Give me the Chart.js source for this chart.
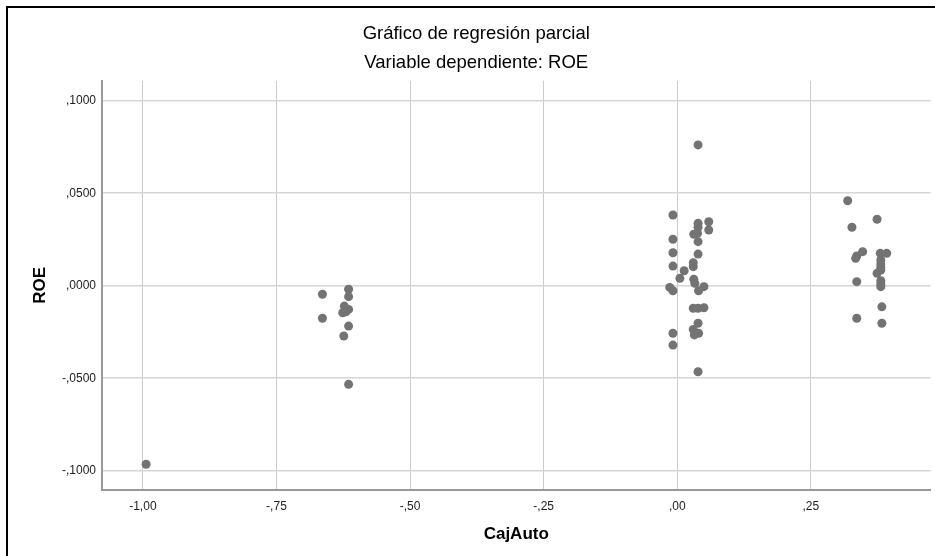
<!DOCTYPE html>
<html>
<head>
<meta charset="utf-8">
<script src="https://cdn.jsdelivr.net/npm/chart.js@4"></script>
<style>
  html, body { margin: 0; padding: 0; background: #fff; overflow: hidden; }
  #frame { position: absolute; left: 6px; top: 6px; width: 1000px; height: 600px;
           border-left: 2px solid #000; border-top: 2px solid #000; }
  #wrap { position: absolute; left: 0; top: 0; width: 935px; height: 556px; }
</style>
</head>
<body>
<div id="frame"></div>
<div id="wrap"><canvas id="regChart" width="935" height="556"></canvas></div>
<script>
// partial regression residuals
var cajAuto = [
  -0.994,
  -0.664, -0.615, -0.615, -0.623, -0.615, -0.626, -0.620, -0.664, -0.615, -0.624, -0.615,
  -0.008, 0.059, 0.039, 0.039, 0.059, 0.031, 0.038, 0.039, -0.008, -0.008, 0.039,
  0.030, 0.030, -0.008, 0.013, 0.005, 0.031, 0.033, -0.014, -0.008, 0.050, 0.040,
  0.030, 0.039, 0.050, 0.039, 0.030, 0.032, 0.040, -0.008, -0.008, 0.039, 0.039,
  0.319, 0.374, 0.327, 0.347, 0.336, 0.334, 0.380, 0.392, 0.381, 0.381, 0.381,
  0.381, 0.374, 0.336, 0.381, 0.381, 0.381, 0.383, 0.336, 0.383
];
var roe = [
  -0.0965,
  -0.0046, -0.0019, -0.0059, -0.0110, -0.0128, -0.0146, -0.0141, -0.0176, -0.0218, -0.0272, -0.0533,
  0.0382, 0.0346, 0.0337, 0.0316, 0.0301, 0.0278, 0.0283, 0.0238, 0.0251, 0.0178, 0.0171,
  0.0124, 0.0103, 0.0106, 0.0081, 0.0040, 0.0035, 0.0013, -0.0009, -0.0027, -0.0005, -0.0027,
  -0.0122, -0.0122, -0.0119, -0.0203, -0.0236, -0.0266, -0.0257, -0.0257, -0.0321, -0.0465, 0.0761,
  0.0459, 0.0359, 0.0316, 0.0184, 0.0161, 0.0148, 0.0175, 0.0175, 0.0139, 0.0117, 0.0099,
  0.0085, 0.0067, 0.0022, 0.0027, 0.0009, -0.0005, -0.0114, -0.0176, -0.0203
];
var xTicks = [-1, -0.75, -0.5, -0.25, 0, 0.25];
var xTickLabels = ['-1,00', '-,75', '-,50', '-,25', ',00', ',25'];
var yTicks = [0.1, 0.05, 0, -0.05, -0.1];
var yTickLabels = [',1000', ',0500', ',0000', '-,0500', '-,1000'];

var points = cajAuto.map(function (x, i) { return { x: x, y: roe[i] }; });

var fontFam = "'Liberation Sans', Arial, sans-serif";

var ctx = document.getElementById("regChart").getContext("2d");
var regChart = new Chart(ctx, {
  type: 'scatter',
  data: {
    datasets: [{
      label: 'ROE',
      data: points,
      backgroundColor: '#737373',
      borderWidth: 0,
      pointRadius: 4.5,
      pointHoverRadius: 4.5
    }]
  },
  options: {
    responsive: false,
    animation: false,
    events: [],
    layout: { padding: { left: 17, right: -0.5, top: 0, bottom: 0 } },
    plugins: {
      legend: { display: false },
      tooltip: { enabled: false },
      title: {
        display: true,
        text: 'Gráfico de regresión parcial',
        color: '#000',
        font: { family: fontFam, size: 18.5, weight: 'normal' },
        padding: { top: 22.4, bottom: 3 }
      },
      subtitle: {
        display: true,
        text: 'Variable dependiente: ROE',
        color: '#000',
        font: { family: fontFam, size: 18.5, weight: 'normal' },
        padding: { top: 4.6, bottom: 6.3 }
      }
    },
    scales: {
      x: {
        type: 'linear',
        min: -1.0765,
        max: 0.474,
        afterBuildTicks: function (scale) {
          scale.ticks = xTicks.map(function (v) { return { value: v }; });
        },
        afterFit: function (scale) { scale.height = 66; },
        ticks: {
          color: '#222',
          font: { family: fontFam, size: 12 },
          padding: 9,
          maxRotation: 0,
          callback: function (v) { return xTickLabels[xTicks.indexOf(v)]; }
        },
        grid: { color: '#cccccc', lineWidth: 1, drawTicks: false },
        border: { color: '#999999', width: 2 },
        title: {
          display: true,
          text: 'CajAuto',
          color: '#000',
          font: { family: fontFam, size: 17, weight: 'bold' },
          padding: { top: 0, bottom: 11.3 }
        }
      },
      y: {
        type: 'linear',
        min: -0.1104,
        max: 0.1108,
        afterBuildTicks: function (scale) {
          scale.ticks = yTicks.map(function (v) { return { value: v }; });
        },
        afterFit: function (scale) { scale.width = 85; },
        ticks: {
          color: '#222',
          font: { family: fontFam, size: 12 },
          padding: 6,
          callback: function (v) { return yTickLabels[yTicks.indexOf(v)]; }
        },
        grid: { color: '#d6d6d6', lineWidth: 1.5, drawTicks: false },
        border: { color: '#999999', width: 2 },
        title: {
          display: true,
          text: 'ROE',
          color: '#000',
          font: { family: fontFam, size: 17, weight: 'bold' },
          padding: { top: 12.8, bottom: 0 }
        }
      }
    }
  }
});
</script>
</body>
</html>
